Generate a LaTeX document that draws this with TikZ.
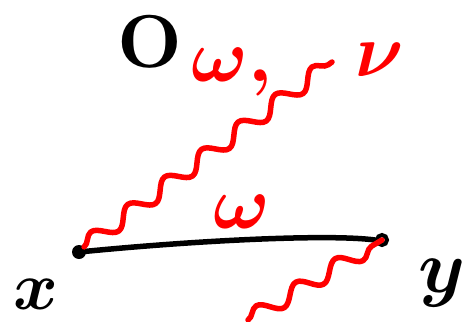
\documentclass[tikz,border=0pt]{standalone}
\usepackage{graphicx}
\usetikzlibrary{decorations.pathmorphing}
\begin{document}
\begin{tikzpicture}[x=1pt,y=-1pt,
  wavy/.style={red, line width=5.5pt, line cap=round, line join=round,
    decorate, decoration={snake, segment length=46pt, amplitude=8pt}},
  lbl/.style={inner sep=0pt, font=\boldmath},
  redlbl/.style={lbl, text=red},
  blacklbl/.style={lbl, text=black},
  dotfill/.style={circle, fill=black, inner sep=0pt, minimum width=14pt},
  dotopen/.style={circle, draw=black, line width=4pt, inner sep=0pt, minimum size=10pt},
  propline/.style={black, line width=5.5pt, line cap=round}]
\useasboundingbox (0,0) rectangle (462,321);
\node[blacklbl] (O) at (150,42) {\scalebox{7.5}{\textbf{O}}};
\node[redlbl] (w1) at (232,72) {\scalebox{7.5}{$\omega,$}};
\node[redlbl] (nu) at (380,60) {\scalebox{7.5}{$\nu$}};
\node[redlbl] (w2) at (242,212) {\scalebox{7.5}{$\omega$}};
\node[blacklbl] (xl) at (36,294) {\scalebox{6.8}{$x$}};
\node[blacklbl] (yl) at (442,283) {\scalebox{7.5}{$y$}};
\node[dotfill] (xp) at (79,252) {};
\node[dotopen] (yp) at (382,240) {};
\coordinate (top) at (332,62);
\coordinate (bot) at (248,320);
\draw[propline] (xp.center) .. controls (200,240) and (330,234) .. (yp.west);
\draw[wavy] (xp.north east) -- (top);
\draw[wavy] (bot) -- (yp.center);
\end{tikzpicture}
\end{document}
